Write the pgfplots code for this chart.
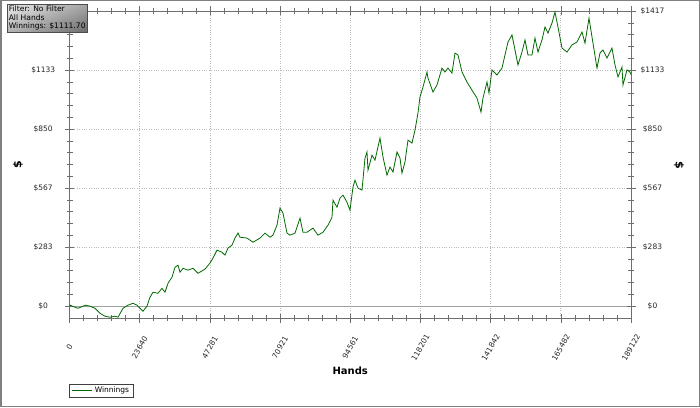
\documentclass[border=0pt]{standalone}
\usepackage{fontspec}
\setmainfont{DejaVu Sans}
\usepackage{pgfplots}
\pgfplotsset{compat=1.18}
\usetikzlibrary{shadings}
\definecolor{linegreen}{RGB}{0,105,0}
\definecolor{axgray}{RGB}{110,110,110}
\definecolor{gridgray}{RGB}{185,185,185}
\definecolor{zerogray}{RGB}{160,160,160}
\begin{document}
\begin{tikzpicture}[x=1pt,y=1pt]
\path (0,0) rectangle (700,407);
\begin{axis}[
  at={(69.5pt,89pt)}, anchor=south west,
  scale only axis, width=561.5pt, height=307pt,
  xmin=0, xmax=189122, ymin=-56.68, ymax=1417,
  scaled x ticks=false, scaled y ticks=false,
  xtick={0,23640.25,47280.5,70920.75,94561,118201.25,141841.5,165481.75,189122},
  xticklabels={0,23640,47281,70921,94561,118201,141842,165482,189122},
  ytick={0,283.4,566.8,850.2,1133.6,1417},
  yticklabels={\$0,\$283,\$567,\$850,\$1133,{}},
  minor x tick num=4, minor y tick num=4,
  tick align=center,
  major tick length=9pt, minor tick length=6pt,
  every tick/.style={axgray, line width=0.6pt},
  axis line style={axgray, line width=0.9pt},
  grid=major,
  major grid style={gridgray, dotted, line width=0.7pt},
  extra y ticks={0}, extra y tick labels={},
  extra y tick style={grid=major, major grid style={zerogray, solid, line width=0.9pt}},
  xticklabel style={font=\fontsize{7.5}{9}\selectfont, text=black!85, anchor=center, yshift=-25pt, rotate=60},
  yticklabel style={font=\fontsize{7.5}{9}\selectfont, text=black!85, anchor=center, xshift=-21.8pt},
  xlabel={Hands},
  xlabel style={at={(axis description cs:0.5,-0.1726)}, anchor=center, font=\fontsize{10}{12}\selectfont\bfseries},
  legend style={at={(-0.0004,-0.216)}, anchor=north west, draw=black!75, fill=white,
    font=\fontsize{7.5}{9}\selectfont, inner xsep=2.5pt, inner ysep=0.5pt},
  legend cell align=left,
  legend image code/.code={\draw[#1] (0pt,0pt) -- (20pt,0pt);},
]
\addplot[linegreen, line width=0.8pt] coordinates {
(0,0) (168,5) (1852,-5) (2863,-10) (5388,5) (6904,0) (8587,-10) (10272,-34)
(11956,-48) (13640,-53) (15324,-48) (16335,-53) (18019,-10) (19703,5) (21387,14)
(22734,5) (23745,-10) (24755,-24) (26102,0) (27113,43) (28123,67) (29807,62)
(31154,86) (32164,67) (33175,110) (34522,139) (35533,187) (36543,197) (37217,163)
(38227,182) (39911,173) (41595,182) (43279,158) (45637,178) (47321,207) (48331,231)
(49678,269) (51362,259) (52372,245) (53383,279) (54730,293) (55740,327) (56751,351)
(57424,331) (59782,327) (61803,307) (64160,327) (65844,351) (67528,331) (68539,341)
(69886,389) (70896,471) (71907,447) (73254,351) (74264,341) (75948,351) (77632,423)
(78643,355) (79990,355) (82011,375) (83695,341) (85379,355) (87063,389) (88410,427)
(88747,509) (90094,475) (91104,519) (92115,533) (93462,499) (94472,461) (95483,572)
(96156,605) (97167,567) (98514,557) (99524,711) (100198,740) (100535,653) (101882,725)
(102892,701) (104576,807) (105587,716) (106934,629) (107944,668) (108955,644) (110302,740)
(111312,711) (111986,639) (112996,692) (114007,797) (115354,783) (116364,845) (117375,927)
(118048,1004) (119059,1052) (120406,1124) (120743,1095) (122427,1028) (123774,1062)
(125458,1143) (126468,1124) (127479,1143) (128826,1119) (129836,1215) (130847,1206)
(132194,1124) (133878,1076) (135562,1037) (137246,999) (138593,932) (139267,999)
(140614,1076) (141288,1023) (142298,1134) (143982,1110) (145666,1143) (146676,1206)
(147687,1268) (149034,1302) (150044,1230) (151055,1158) (152402,1220) (153413,1278)
(154423,1206) (155770,1206) (156781,1287) (157791,1220) (159138,1278) (160149,1340)
(161159,1311) (162506,1359) (163517,1412) (164527,1340) (165874,1239) (167558,1220)
(169242,1254) (170926,1268) (172610,1316) (173621,1263) (174968,1383) (176315,1263)
(177662,1143) (178672,1215) (179683,1230) (181030,1191) (182714,1239) (183725,1158)
(184735,1100) (186082,1148) (186419,1062) (187766,1134) (188776,1124) (189122,1111.70)
};
\addlegendentry{Winnings}
\end{axis}
\begin{axis}[
  at={(69.5pt,89pt)}, anchor=south west,
  scale only axis, width=561.5pt, height=307pt,
  xmin=0, xmax=189122, ymin=-56.68, ymax=1417,
  scaled y ticks=false,
  xtick=\empty,
  ytick={0,283.4,566.8,850.2,1133.6,1417},
  yticklabels={\$0,\$283,\$567,\$850,\$1133,\$1417},
  yticklabel pos=right,
  axis line style={draw=none}, major tick length=0pt,
  yticklabel style={font=\fontsize{7.5}{9}\selectfont, text=black!85, anchor=center, xshift=21.5pt},
]
\end{axis}
\node[rotate=90, font=\fontsize{11}{13}\selectfont\bfseries] at (18,242) {\$};
\node[rotate=-90, font=\fontsize{11}{13}\selectfont\bfseries] at (679,242) {\$};
\shade[upper left=black!8, upper right=black!35, lower left=black!30, lower right=black!58]
  (7.3,402.7) rectangle (87.3,374.7);
\draw[black!70, line width=0.7pt] (7.3,402.7) rectangle (87.3,374.7);
\node[anchor=north west, align=left, inner sep=0pt, font=\fontsize{7.6}{8.7}\selectfont]
  at (8.6,401.5) {Filter: No Filter\\All Hands\\Winnings: \$1111.70};
\draw[black!50, line width=1.5pt] (0.75,0.75) rectangle (699.25,406.25);
\end{tikzpicture}
\end{document}
